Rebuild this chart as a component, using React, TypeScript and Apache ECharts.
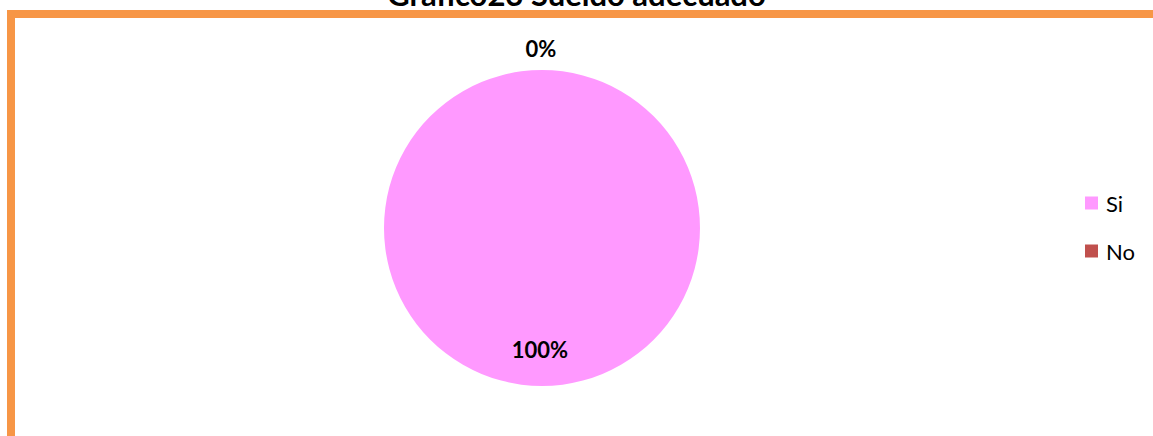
import React, { useEffect, useRef } from "react";
import * as echarts from "echarts";

const titleText = "Gráfico23 Sueldo adecuado";
const categories = ["Si", "No"];
const values = [100, 0];
const colors = ["#FF99FF", "#C0504D"];

export default function App() {
  const ref = useRef<HTMLDivElement>(null);
  useEffect(() => {
    if (!ref.current) return;
    const chart = echarts.init(ref.current, undefined, { renderer: "svg" });
    const total = values.reduce((a, b) => a + b, 0);
    chart.setOption({
      animation: false,
      backgroundColor: "#ffffff",
      title: {
        text: titleText,
        left: "center",
        top: -22,
        padding: 0,
        textStyle: { fontFamily: "Lato", fontWeight: "bold", fontSize: 31, color: "#000" },
      },
      graphic: [
        {
          type: "rect",
          shape: { x: 11, y: 14, width: 1300, height: 600 },
          style: { fill: "none", stroke: "#F79646", lineWidth: 8 },
          z: 10,
        },
      ],
      legend: {
        orient: "vertical",
        left: 1085,
        top: 192,
        padding: 0,
        itemWidth: 13,
        itemHeight: 13,
        itemGap: 26,
        icon: "rect",
        textStyle: { fontFamily: "Lato", fontSize: 22, color: "#000", padding: [0, 0, 0, 3] },
        data: categories,
      },
      series: [
        {
          type: "pie",
          center: [542, 228],
          radius: 158,
          startAngle: 90,
          clockwise: true,
          avoidLabelOverlap: false,
          minShowLabelAngle: 0,
          labelLine: { show: false, length: 0, length2: 0 },
          label: {
            fontFamily: "Lato",
            fontWeight: "bold",
            fontSize: 22,
            color: "#000",
            formatter: (p: any) => Math.round((p.value / total) * 100) + "%",
          },
          labelLayout: (p: any) =>
            p.dataIndex === 0 ? { dx: -2, dy: 39 } : { dx: -6, dy: -22, align: "center" },
          data: categories.map((c, i) => ({
            name: c,
            value: values[i],
            itemStyle: { color: colors[i] },
            label: { position: i === 0 ? "inside" : "outside" },
          })),
        },
      ],
    });
    return () => chart.dispose();
  }, []);
  return (
    <div
      ref={ref}
      style={{ position: "fixed", left: 0, top: 0, width: 1153, height: 436 }}
    />
  );
}
